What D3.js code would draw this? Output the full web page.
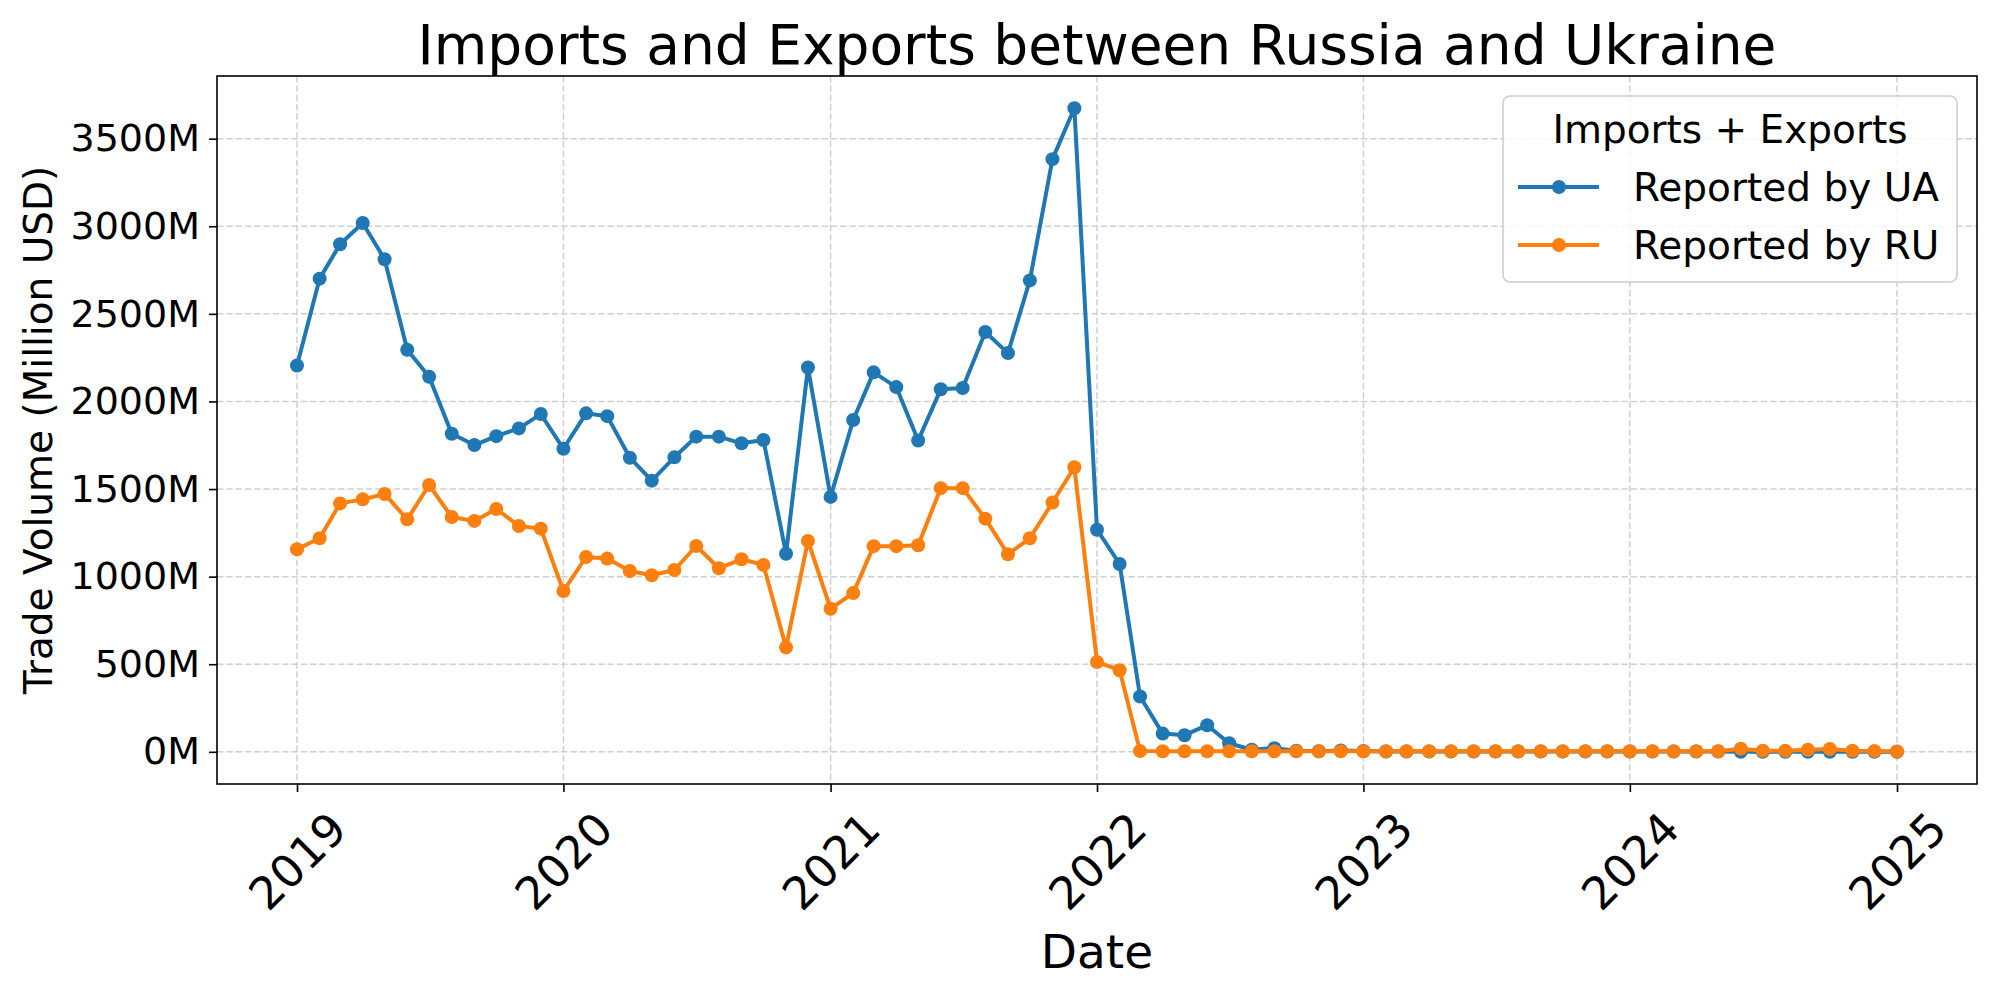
<!DOCTYPE html>
<html>
<head>
<meta charset="utf-8">
<script src="https://cdn.jsdelivr.net/npm/d3@7"></script>
<style>
    body { margin: 0; background: #fff; }
    text { font-family: 'DejaVu Sans', sans-serif; fill: #000; }
</style>
</head>
<body>
<div id="chart"></div>
<script>
// monthly points, Jan 2019 .. Jan 2025
const first_month = new Date(2019, 0, 1);
const last_month = new Date(2025, 0, 1);

// imports + exports, million USD, as reported by Ukraine
const ua_values = [
    2205, 2701, 2897, 3019, 2812, 2295, 2141, 1816, 1751, 1802, 1846, 1928,
    1730, 1932, 1916, 1679, 1548, 1681, 1799, 1799, 1761, 1780, 1131, 2194,
    1455, 1894, 2166, 2082, 1777, 2070, 2077, 2396, 2276, 2691, 3383, 3674,
    1268, 1072, 316, 104, 95, 152, 49, 12, 21, 6, 3, 8,
    5, 2, 2, 2, 2, 2, 2, 2, 2, 2, 2, 2,
    2, 2, 2, 2, 2, 0, 0, 0, 0, 0, 0, 0,
    0
];

// imports + exports, million USD, as reported by Russia
const ru_values = [
    1156, 1219, 1418, 1441, 1472, 1327, 1523, 1340, 1318, 1386, 1289, 1274,
    918, 1112, 1103, 1032, 1008, 1038, 1175, 1048, 1099, 1067, 596, 1204,
    817, 906, 1174, 1174, 1179, 1505, 1505, 1331, 1128, 1219, 1423, 1624,
    513, 466, 4, 3, 3, 3, 3, 3, 3, 3, 3, 3,
    3, 3, 3, 3, 3, 3, 3, 3, 3, 3, 3, 3,
    3, 3, 3, 3, 3, 18, 6, 6, 12, 16, 6, 4,
    2
];

const series_names = ['Reported by UA', 'Reported by RU'];
const series_colors = ['#1f77b4', '#ff7f0e'];
const year_ticks = ['2019', '2020', '2021', '2022', '2023', '2024', '2025'];
const y_ticks = [0, 500, 1000, 1500, 2000, 2500, 3000, 3500];

function main() {
    // set dimensions
    const w = 1999;
    const h = 1000;
    const left = 217;
    const right = 1977;
    const top = 76;
    const bottom = 784;

    const months = d3.timeMonth.range(first_month, d3.timeMonth.offset(last_month, 1));
    const series = [ua_values, ru_values].map((vals, i) => ({
        name: series_names[i],
        color: series_colors[i],
        points: vals.map((v, j) => ({ date: months[j], value: v }))
    }));

    // x scale, 5% padding like matplotlib
    const t0 = first_month.getTime();
    const t1 = last_month.getTime();
    const x_pad = (t1 - t0) * 0.05;
    const x_scale = d3
        .scaleTime()
        .domain([new Date(t0 - x_pad), new Date(t1 + x_pad)])
        .range([left, right]);

    // y scale
    const all_values = ua_values.concat(ru_values);
    const min_v = d3.min(all_values);
    const max_v = d3.max(all_values);
    const y_pad = (max_v - min_v) * 0.05;
    const y_scale = d3
        .scaleLinear()
        .domain([min_v - y_pad, max_v + y_pad])
        .range([bottom, top]);

    // create svg element
    const svg = d3
        .select('#chart')
        .append('svg')
        .attr('width', w)
        .attr('height', h)
        .style('background', '#fff');

    const year_dates = year_ticks.map(y => new Date(+y, 0, 1));

    // grid
    svg.append('g')
        .selectAll('line')
        .data(year_dates)
        .enter()
        .append('line')
        .attr('x1', d => x_scale(d))
        .attr('x2', d => x_scale(d))
        .attr('y1', top)
        .attr('y2', bottom)
        .attr('stroke', '#d0d0d0')
        .attr('stroke-width', 1.5)
        .attr('stroke-dasharray', '6.5,2.8');

    svg.append('g')
        .selectAll('line')
        .data(y_ticks)
        .enter()
        .append('line')
        .attr('x1', left)
        .attr('x2', right)
        .attr('y1', d => y_scale(d))
        .attr('y2', d => y_scale(d))
        .attr('stroke', '#d0d0d0')
        .attr('stroke-width', 1.5)
        .attr('stroke-dasharray', '6.5,2.8');

    // lines + markers
    const line = d3.line()
        .x(d => x_scale(d.date))
        .y(d => y_scale(d.value));

    series.forEach(s => {
        svg.append('path')
            .datum(s.points)
            .attr('d', line)
            .attr('fill', 'none')
            .attr('stroke', s.color)
            .attr('stroke-width', 4)
            .attr('stroke-linejoin', 'round');

        svg.append('g')
            .selectAll('circle')
            .data(s.points)
            .enter()
            .append('circle')
            .attr('cx', d => x_scale(d.date))
            .attr('cy', d => y_scale(d.value))
            .attr('r', 7)
            .attr('fill', s.color);
    });

    // axes
    const x_axis = d3.axisBottom(x_scale)
        .tickValues(year_dates)
        .tickFormat(d3.timeFormat('%Y'))
        .tickSize(8)
        .tickSizeOuter(0);

    const gx = svg.append('g')
        .attr('id', 'x-axis')
        .attr('transform', `translate(0, ${bottom})`)
        .call(x_axis);
    gx.select('.domain').remove();
    gx.selectAll('line').attr('stroke', '#000').attr('stroke-width', 1.6);
    gx.selectAll('text')
        .attr('y', null)
        .attr('dy', '0.35em')
        .attr('text-anchor', 'middle')
        .attr('transform', 'translate(0, 77) rotate(-45)')
        .style('font-size', '45px')
        .style('font-family', "'DejaVu Sans', sans-serif");

    const y_axis = d3.axisLeft(y_scale)
        .tickValues(y_ticks)
        .tickFormat(d => d + 'M')
        .tickSize(8)
        .tickPadding(9)
        .tickSizeOuter(0);

    const gy = svg.append('g')
        .attr('id', 'y-axis')
        .attr('transform', `translate(${left}, 0)`)
        .call(y_axis);
    gy.select('.domain').remove();
    gy.selectAll('line').attr('stroke', '#000').attr('stroke-width', 1.6);
    gy.selectAll('text')
        .style('font-size', '38px')
        .style('font-family', "'DejaVu Sans', sans-serif");

    // frame
    svg.append('rect')
        .attr('x', left)
        .attr('y', top)
        .attr('width', right - left)
        .attr('height', bottom - top)
        .attr('fill', 'none')
        .attr('stroke', '#000')
        .attr('stroke-width', 1.6);

    // title and labels
    svg.append('text')
        .attr('x', (left + right) / 2)
        .attr('y', 64)
        .attr('text-anchor', 'middle')
        .style('font-size', '55px')
        .text('Imports and Exports between Russia and Ukraine');

    svg.append('text')
        .attr('x', (left + right) / 2)
        .attr('y', 968)
        .attr('text-anchor', 'middle')
        .style('font-size', '47px')
        .text('Date');

    svg.append('text')
        .attr('transform', `translate(52, ${(top + bottom) / 2}) rotate(-90)`)
        .attr('text-anchor', 'middle')
        .style('font-size', '39px')
        .text('Trade Volume (Million USD)');

    // legend
    const legend = svg.append('g');
    legend.append('rect')
        .attr('x', 1503)
        .attr('y', 96)
        .attr('width', 454)
        .attr('height', 186)
        .attr('rx', 7)
        .attr('fill', '#fff')
        .attr('fill-opacity', 0.8)
        .attr('stroke', '#cccccc')
        .attr('stroke-width', 1.5);

    legend.append('text')
        .attr('x', 1730)
        .attr('y', 143)
        .attr('text-anchor', 'middle')
        .style('font-size', '39px')
        .text('Imports + Exports');

    series.forEach((s, i) => {
        const ly = 187 + i * 58;
        legend.append('line')
            .attr('x1', 1518)
            .attr('x2', 1599)
            .attr('y1', ly)
            .attr('y2', ly)
            .attr('stroke', s.color)
            .attr('stroke-width', 4);
        legend.append('circle')
            .attr('cx', 1559)
            .attr('cy', ly)
            .attr('r', 7)
            .attr('fill', s.color);
        legend.append('text')
            .attr('x', 1633)
            .attr('y', ly + 14)
            .style('font-size', '39px')
            .text(s.name);
    });
}

main();
</script>
</body>
</html>
